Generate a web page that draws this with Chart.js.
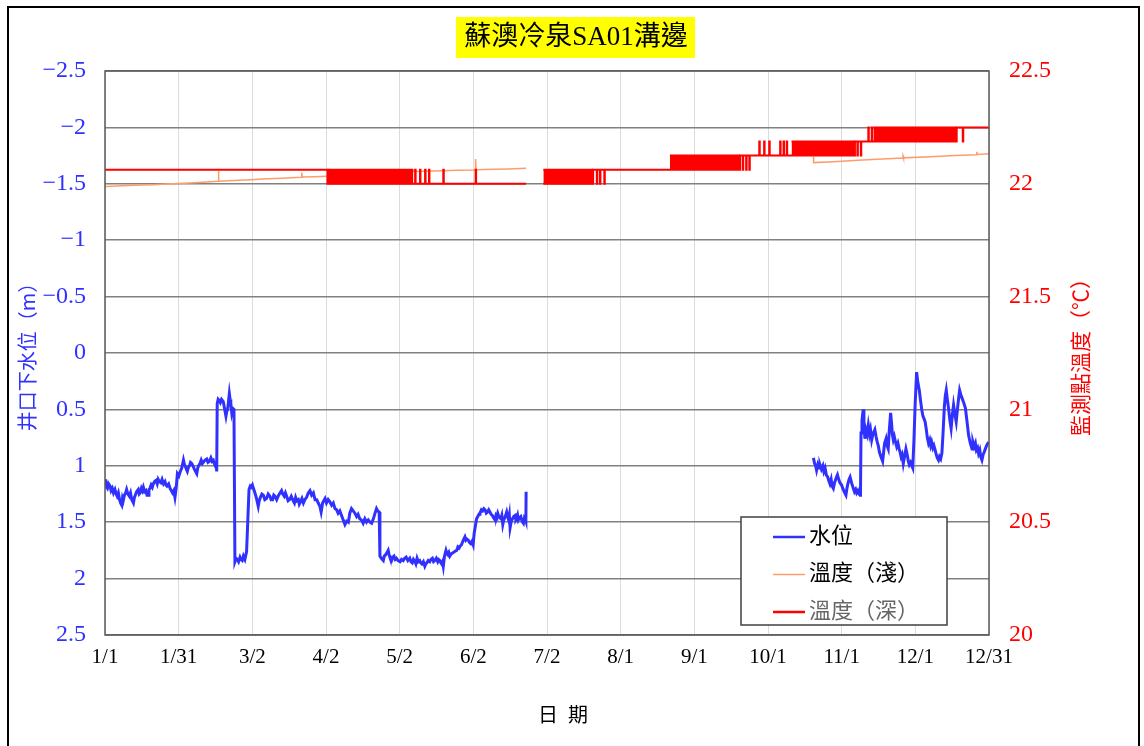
<!DOCTYPE html>
<html>
<head>
<meta charset="utf-8">
<script src="https://cdn.jsdelivr.net/npm/chart.js@4.4.1/dist/chart.umd.min.js"></script>
<style>
  html, body { margin: 0; padding: 0; background: #fff; }
  #wrap { width: 1144px; height: 746px; }
</style>
</head>
<body>
<div id="wrap"><canvas id="chart" width="1144" height="746"></canvas></div>
<script>
// x axis is day of year: 0 = 1/1 ... 364 = 12/31
const dayLabels = ['1/1', '1/31', '3/2', '4/2', '5/2', '6/2', '7/2', '8/1', '9/1', '10/1', '11/1', '12/1', '12/31'];

// 井口下水位 (m), [day, value]
const waterLevelA = [
  [0, 1.17], [0.3, 1.12], [0.7, 1.19], [1, 1.2], [1.5, 1.16], [2.1, 1.18], [2.5, 1.22], [3, 1.2], [3.5, 1.24],
  [4.1, 1.21], [4.6, 1.25], [5, 1.27], [5.5, 1.24], [6, 1.3], [6.4, 1.33], [6.9, 1.35], [7.2, 1.29], [7.5, 1.31],
  [8, 1.26], [8.5, 1.24], [8.9, 1.21], [9.4, 1.25], [10, 1.27], [10.5, 1.24], [11, 1.3], [11.7, 1.33], [12.1, 1.28],
  [12.5, 1.26], [13, 1.23], [13.7, 1.21], [14.1, 1.25], [14.5, 1.24], [15, 1.2], [15.4, 1.22], [15.8, 1.19],
  [16.3, 1.23], [16.8, 1.22], [17.3, 1.26], [17.8, 1.26], [18.1, 1.21], [18.5, 1.2], [19, 1.17], [19.5, 1.19],
  [19.9, 1.16], [20.4, 1.14], [21, 1.13], [21.5, 1.16], [21.9, 1.12], [22.4, 1.14], [23, 1.15], [23.5, 1.12],
  [24.1, 1.16], [24.7, 1.14], [25.1, 1.17], [25.5, 1.18], [26.2, 1.16], [26.8, 1.2], [27.3, 1.22], [27.8, 1.24],
  [28.3, 1.22], [28.8, 1.28], [29.3, 1.2], [29.8, 1.07], [30.4, 1.09], [31, 1.05], [31.6, 1.02], [32.3, 0.95],
  [32.7, 0.99], [33, 1.0], [33.5, 1.03], [33.9, 1.05], [34.4, 1.01], [34.8, 1.0], [35.2, 0.97], [35.7, 0.98],
  [36.2, 1.0], [36.8, 1.03], [37.3, 1.05], [37.8, 1.07], [38.2, 1.02], [38.5, 1.0], [39.1, 0.98], [39.6, 0.95],
  [40.1, 0.98], [40.5, 0.97], [41.2, 0.95], [41.9, 0.94], [42.4, 0.97], [43, 0.96], [43.6, 0.93], [44.1, 0.96],
  [44.6, 0.95], [45, 0.98], [45.4, 1.0], [45.8, 0.99], [46, 1.05], [46.2, 0.45], [46.6, 0.41], [47, 0.42],
  [47.5, 0.44], [48, 0.41], [48.7, 0.43], [49.3, 0.5], [49.8, 0.56], [50.1, 0.52], [50.5, 0.5], [50.9, 0.42],
  [51.2, 0.36], [51.5, 0.41], [51.8, 0.45], [52.2, 0.53], [52.6, 0.49], [53.1, 0.5], [53.5, 1.85], [54, 1.82],
  [54.5, 1.83], [55, 1.85], [55.6, 1.81], [56, 1.83], [56.5, 1.84], [57, 1.8], [57.6, 1.83], [58, 1.79],
  [58.3, 1.76], [59.3, 1.21], [59.8, 1.18], [60.2, 1.19], [60.7, 1.17], [61.1, 1.2], [61.6, 1.23], [62, 1.26],
  [62.5, 1.3], [63.1, 1.36], [63.5, 1.31], [64, 1.28], [64.6, 1.25], [65.2, 1.26], [65.8, 1.3], [66.5, 1.29],
  [67.2, 1.25], [67.9, 1.27], [68.4, 1.3], [69, 1.3], [69.5, 1.26], [70, 1.27], [70.7, 1.3], [71.5, 1.26],
  [72.1, 1.24], [72.7, 1.22], [73.2, 1.25], [73.8, 1.27], [74.3, 1.24], [74.8, 1.27], [75.4, 1.31], [76, 1.3],
  [76.7, 1.27], [77.5, 1.31], [78, 1.33], [78.5, 1.28], [79, 1.31], [79.6, 1.3], [80, 1.34], [80.5, 1.32],
  [81.1, 1.29], [81.7, 1.33], [82.3, 1.3], [83, 1.28], [83.7, 1.24], [84.4, 1.22], [85.1, 1.26], [85.8, 1.24],
  [86.5, 1.3], [87.2, 1.3], [87.8, 1.33], [88.5, 1.36], [89, 1.41], [89.6, 1.33], [90.1, 1.31], [90.6, 1.29],
  [91.2, 1.33], [91.9, 1.3], [92.6, 1.32], [93.3, 1.35], [94, 1.33], [94.7, 1.38], [95.4, 1.39], [96, 1.42],
  [96.7, 1.4], [97.4, 1.44], [98.1, 1.48], [98.8, 1.52], [99.5, 1.49], [100.2, 1.5], [100.8, 1.42], [101.5, 1.38],
  [102.2, 1.4], [102.9, 1.42], [103.6, 1.45], [104.2, 1.43], [104.9, 1.47], [105.6, 1.48], [106.3, 1.51],
  [107, 1.47], [107.7, 1.5], [108.4, 1.48], [109.1, 1.5], [109.8, 1.51], [110.5, 1.47], [111.2, 1.42],
  [111.8, 1.38], [112.3, 1.4], [112.9, 1.41], [113.2, 1.8], [113.8, 1.82], [114.6, 1.84], [115, 1.8],
  [115.5, 1.79], [116.1, 1.77], [116.6, 1.75], [117, 1.79], [117.3, 1.81], [117.7, 1.83], [118, 1.84],
  [118.5, 1.81], [119, 1.8], [119.5, 1.83], [120, 1.82], [120.7, 1.84], [121.5, 1.85], [122.1, 1.83],
  [122.8, 1.84], [123.4, 1.82], [124, 1.81], [124.7, 1.84], [125.5, 1.82], [126, 1.85], [126.5, 1.86],
  [127, 1.83], [127.6, 1.85], [128, 1.87], [128.5, 1.82], [129, 1.85], [129.6, 1.84], [130, 1.86], [130.5, 1.87],
  [131.1, 1.85], [131.7, 1.89], [132.1, 1.87], [132.5, 1.86], [133.1, 1.84], [133.7, 1.85], [134.2, 1.83],
  [134.8, 1.82], [135.3, 1.85], [135.8, 1.84], [136.4, 1.82], [137, 1.85], [137.4, 1.83], [137.9, 1.84],
  [138.3, 1.86], [138.6, 1.87], [139, 1.85], [139.3, 1.89], [139.8, 1.8], [140.4, 1.75], [140.8, 1.78],
  [141.2, 1.79], [141.6, 1.77], [142, 1.8], [142.6, 1.78], [143.3, 1.77], [144, 1.76], [144.8, 1.75],
  [145.3, 1.72], [145.8, 1.73], [146.3, 1.71], [146.8, 1.7], [147.5, 1.66], [148.2, 1.63], [148.6, 1.66],
  [149, 1.65], [149.6, 1.66], [150.1, 1.68], [150.6, 1.69], [151.1, 1.67], [151.6, 1.7], [152, 1.6],
  [152.6, 1.52], [153, 1.47], [153.5, 1.45], [154, 1.43], [154.4, 1.42], [155, 1.39], [155.5, 1.4], [156, 1.38],
  [156.5, 1.39], [157, 1.42], [157.5, 1.41], [158, 1.39], [158.5, 1.41], [159, 1.43], [159.5, 1.44], [160, 1.46],
  [160.6, 1.48], [161, 1.44], [161.3, 1.45], [161.7, 1.42], [162, 1.44], [162.5, 1.46], [163, 1.47],
  [163.4, 1.44], [163.8, 1.52], [164.2, 1.48], [164.6, 1.46], [165, 1.44], [165.4, 1.41], [165.8, 1.45],
  [166.2, 1.48], [166.5, 1.44], [166.8, 1.55], [167.3, 1.49], [167.8, 1.47], [168.3, 1.45], [168.9, 1.44],
  [169.2, 1.48], [169.5, 1.47], [169.9, 1.44], [170.2, 1.48], [170.7, 1.46], [171.2, 1.45], [171.7, 1.49],
  [172.3, 1.51], [172.7, 1.46], [173, 1.47], [173.3, 1.49], [173.4, 1.23]
];
const waterLevelB = [
  [291.7, 0.93], [292.2, 0.98], [292.6, 1.0], [293, 1.04], [293.5, 0.99], [294, 1.02], [294.4, 0.99], [295, 1.03],
  [295.6, 1.0], [296, 1.05], [296.5, 1.02], [297, 1.08], [297.6, 1.1], [298, 1.13], [298.5, 1.16], [299, 1.12],
  [299.4, 1.18], [299.9, 1.2], [300.4, 1.15], [300.9, 1.12], [301.2, 1.1], [301.6, 1.08], [302.1, 1.12],
  [302.6, 1.15], [303.3, 1.17], [303.8, 1.2], [304.4, 1.23], [305.1, 1.26], [305.5, 1.2], [306, 1.15],
  [306.4, 1.12], [306.8, 1.1], [307.4, 1.15], [308.1, 1.2], [308.6, 1.23], [309.1, 1.21], [309.5, 1.24],
  [310, 1.22], [310.5, 1.25], [310.9, 1.26], [311.1, 1.2], [311.3, 0.71], [311.7, 0.6], [312.2, 0.5],
  [312.5, 0.64], [312.9, 0.76], [313.3, 0.68], [313.8, 0.72], [314.3, 0.64], [314.8, 0.72], [315.2, 0.68],
  [315.7, 0.77], [316.2, 0.72], [316.6, 0.7], [317, 0.68], [317.5, 0.74], [318, 0.79], [318.4, 0.82],
  [318.9, 0.88], [319.5, 0.92], [320.2, 0.96], [320.6, 0.88], [321, 0.8], [321.6, 0.76], [322, 0.82],
  [322.5, 0.85], [322.9, 0.7], [323.5, 0.53], [323.9, 0.63], [324.2, 0.72], [324.6, 0.77], [325, 0.74],
  [325.5, 0.79], [326, 0.83], [326.5, 0.8], [327, 0.85], [327.4, 0.88], [327.8, 0.92], [328.2, 0.9],
  [328.7, 0.98], [329.2, 0.92], [329.8, 0.85], [330.3, 0.9], [330.8, 0.96], [331.2, 0.99], [331.7, 0.97],
  [332.2, 1.0], [332.6, 1.02], [333.1, 0.77], [333.6, 0.45], [334.2, 0.17], [334.7, 0.26], [335.3, 0.33],
  [335.8, 0.42], [336.3, 0.5], [336.8, 0.56], [337.2, 0.58], [337.7, 0.61], [338.2, 0.68], [338.6, 0.75],
  [339.1, 0.8], [339.6, 0.77], [340, 0.82], [340.4, 0.79], [340.9, 0.84], [341.3, 0.82], [341.8, 0.86],
  [342.3, 0.9], [342.7, 0.93], [343.2, 0.95], [343.6, 0.92], [344.1, 0.94], [344.6, 0.89], [345.1, 0.7],
  [345.6, 0.48], [346, 0.38], [346.4, 0.33], [346.9, 0.42], [347.4, 0.5], [347.9, 0.6], [348.4, 0.67],
  [348.9, 0.55], [349.4, 0.46], [350, 0.55], [350.5, 0.61], [351, 0.5], [351.5, 0.4], [351.9, 0.33],
  [352.4, 0.37], [352.9, 0.4], [353.6, 0.44], [354.3, 0.49], [354.9, 0.6], [355.6, 0.73], [356.3, 0.8],
  [357, 0.85], [357.4, 0.79], [357.9, 0.83], [358.4, 0.8], [358.8, 0.86], [359.3, 0.84], [359.7, 0.89],
  [360.2, 0.86], [360.6, 0.92], [361.1, 0.95], [361.6, 0.9], [362, 0.88], [362.5, 0.85], [363, 0.82],
  [363.5, 0.8], [363.9, 0.79]
];

// 溫度（淺）, [day, value]
const shallowTempA = [
  [0, 21.988], [5, 21.99], [10, 21.992], [15, 21.995], [20, 21.996], [25, 21.999], [30, 22.001], [35, 22.004],
  [40, 22.007], [46.6, 22.011], [46.7, 22.058], [46.9, 22.011], [55, 22.016], [60, 22.018], [65, 22.021],
  [70, 22.023], [75, 22.026], [80.9, 22.029], [81, 22.05], [81.2, 22.03], [86, 22.031], [91.6, 22.033],
  [100, 22.038], [110, 22.045], [120, 22.05], [127, 22.054], [135, 22.057], [145, 22.06], [152.5, 22.061],
  [152.6, 22.11], [152.8, 22.062], [160, 22.064], [166, 22.066], [173.4, 22.069]
];
const shallowTempB = [
  [291.7, 22.12], [291.8, 22.094], [300, 22.098], [310, 22.104], [320, 22.11], [328.5, 22.114], [328.6, 22.124],
  [328.8, 22.115], [340, 22.12], [350, 22.125], [358.9, 22.129], [359, 22.142], [359.2, 22.13], [364, 22.133]
];

// 溫度（深）, [day, value] held until the next point
const deepTempA = [
  [0, 22.0625], [91.6, 22.0], [127.7, 22.0625], [127.9, 22.0], [129.7, 22.0625], [129.9, 22.0],
  [131.8, 22.0625], [132, 22.0], [133.4, 22.0625], [133.6, 22.0], [139.3, 22.0625], [139.5, 22.0],
  [152.6, 22.0625], [152.8, 22.0], [173.4, 22.0]
];
const deepTempB = [
  [180.5, 22.0], [201, 22.0625], [202.5, 22.0], [202.7, 22.0625], [203.8, 22.0], [204, 22.0625], [205.6, 22.0],
  [205.8, 22.0625], [232.6, 22.0625], [261.5, 22.125], [262.6, 22.0625], [262.8, 22.125], [264, 22.0625],
  [264.2, 22.125], [265.3, 22.0625], [265.5, 22.125], [269.4, 22.1875], [269.6, 22.125], [271.4, 22.1875],
  [271.6, 22.125], [273.5, 22.1875], [273.7, 22.125], [278, 22.1875], [278.2, 22.125], [279.4, 22.1875],
  [279.6, 22.125], [280.7, 22.1875], [280.9, 22.125], [308.8, 22.1875], [309.8, 22.125], [310, 22.1875],
  [311.2, 22.125], [311.4, 22.1875], [314.3, 22.25], [314.5, 22.1875], [315.7, 22.25], [315.9, 22.1875],
  [350.7, 22.25], [353.2, 22.1875], [353.4, 22.25], [364, 22.25]
];
// stretches where the deep sensor flips between two readings every few minutes
const denseFrom = [91.6, 180.5, 232.6, 282.7, 316.4];
const denseTo   = [127, 201, 261.5, 308.8, 350.7];
const denseLow  = [22.0, 22.0, 22.0625, 22.125, 22.1875];
const denseHigh = [22.0625, 22.0625, 22.125, 22.1875, 22.25];

const BLUE = '#3030ff';
const ORANGE = '#ff9c6b';
const RED = '#ff0000';
const SERIF = '"Liberation Serif", "Noto Sans CJK TC", serif';
const CJK = '"Noto Sans CJK TC", sans-serif';

function toPoints(a, b, gapAt) {
  const pts = a.map(p => ({ x: p[0], y: p[1] }));
  pts.push({ x: gapAt, y: null });
  return pts.concat(b.map(p => ({ x: p[0], y: p[1] })));
}

const datasets = [
  {
    label: '水位', yAxisID: 'y', data: toPoints(waterLevelA, waterLevelB, 230),
    borderColor: BLUE, borderWidth: 3, order: 1
  },
  {
    label: '溫度（淺）', yAxisID: 'y2', data: toPoints(shallowTempA, shallowTempB, 230),
    borderColor: ORANGE, borderWidth: 1.5, order: 4
  },
  {
    label: '溫度（深）', yAxisID: 'y2', data: toPoints(deepTempA, deepTempB, 176),
    borderColor: RED, borderWidth: 2, stepped: true, order: 2
  }
];
denseFrom.forEach((f, i) => {
  datasets.push({
    label: 'dense' + i, yAxisID: 'y2',
    data: [{ x: f, y: denseHigh[i] }, { x: denseTo[i], y: denseHigh[i] }],
    borderColor: RED, backgroundColor: RED, borderWidth: 2,
    fill: { value: denseLow[i] }, order: 3
  });
});

// frame, title box, axis titles and legend box drawn on top
const decorations = {
  id: 'decorations',
  beforeDraw(chart) {
    const ctx = chart.ctx;
    ctx.save();
    ctx.fillStyle = '#fff';
    ctx.fillRect(0, 0, chart.width, chart.height);
    ctx.restore();
  },
  afterDraw(chart) {
    const ctx = chart.ctx;
    const a = chart.chartArea;
    ctx.save();

    // plot border
    ctx.strokeStyle = '#595959';
    ctx.lineWidth = 1.5;
    ctx.strokeRect(a.left, a.top, a.right - a.left, a.bottom - a.top);

    // outer frame
    ctx.strokeStyle = '#000';
    ctx.lineWidth = 2;
    ctx.strokeRect(8, 7, 1131, 760);

    // title
    ctx.fillStyle = '#ffff00';
    ctx.fillRect(456, 17, 239, 41);
    ctx.fillStyle = '#000';
    ctx.font = '27px ' + SERIF;
    ctx.textAlign = 'center';
    ctx.textBaseline = 'middle';
    ctx.fillText('蘇澳冷泉SA01溝邊', 576, 38);

    // x title
    ctx.font = '20px ' + CJK;
    ctx.letterSpacing = '10px';
    ctx.fillText('日期', 568, 714);
    ctx.letterSpacing = '0px';

    // left title
    ctx.save();
    ctx.translate(27, 352);
    ctx.rotate(-Math.PI / 2);
    ctx.fillStyle = BLUE;
    ctx.font = '20px ' + CJK;
    ctx.fillText('井口下水位（m）', 0, 0);
    ctx.restore();

    // right title
    ctx.save();
    ctx.translate(1080, 352);
    ctx.rotate(-Math.PI / 2);
    ctx.fillStyle = RED;
    ctx.font = '21px ' + CJK;
    ctx.fillText('監測點溫度（℃）', 0, 0);
    ctx.restore();

    // legend
    ctx.fillStyle = '#fff';
    ctx.fillRect(741, 517, 206, 108);
    ctx.strokeStyle = '#404040';
    ctx.lineWidth = 1.5;
    ctx.strokeRect(741, 517, 206, 108);
    const rows = [
      { text: datasets[0].label, line: BLUE, w: 2.5, color: '#000' },
      { text: datasets[1].label, line: ORANGE, w: 1.5, color: '#000' },
      { text: datasets[2].label, line: RED, w: 2.5, color: '#666' }
    ];
    ctx.font = '22px ' + SERIF;
    ctx.textAlign = 'left';
    rows.forEach((r, i) => {
      const y = 537 + i * 37.5;
      ctx.strokeStyle = r.line;
      ctx.lineWidth = r.w;
      ctx.beginPath();
      ctx.moveTo(773, y);
      ctx.lineTo(805, y);
      ctx.stroke();
      ctx.fillStyle = r.color;
      ctx.fillText(r.text, 809, y);
    });
    ctx.restore();
  }
};

new Chart(document.getElementById('chart'), {
  type: 'line',
  data: { datasets: datasets },
  plugins: [decorations],
  options: {
    responsive: false,
    animation: false,
    devicePixelRatio: 1,
    elements: { point: { radius: 0 }, line: { tension: 0 } },
    layout: { padding: { top: 71, left: 0, right: 0, bottom: 0 } },
    plugins: { legend: { display: false }, tooltip: { enabled: false }, title: { display: false } },
    scales: {
      x: {
        type: 'linear', min: 0, max: 364,
        afterBuildTicks: s => { s.ticks = dayLabels.map((l, i) => ({ value: i * 364 / 12 })); },
        afterFit: s => { s.height = 111; },
        ticks: {
          autoSkip: false, maxRotation: 0, padding: 10, color: '#000',
          font: { family: SERIF, size: 21 },
          callback: (v, i) => dayLabels[i]
        },
        grid: { color: '#dcdcdc', lineWidth: 1, drawTicks: false },
        border: { display: false }
      },
      y: {
        position: 'left', reverse: true, min: -2.5, max: 2.5,
        afterFit: s => { s.width = 105; },
        ticks: {
          stepSize: 0.5, padding: 19, color: BLUE,
          font: { family: SERIF, size: 24 },
          callback: v => String(v).replace('-', '\u2212')
        },
        grid: { color: '#808080', lineWidth: 1.5, drawTicks: false },
        border: { display: false }
      },
      y2: {
        position: 'right', min: 20, max: 22.5,
        afterFit: s => { s.width = 155; },
        ticks: {
          stepSize: 0.5, padding: 20, color: RED,
          font: { family: SERIF, size: 24 },
          callback: v => String(Math.round(v * 10) / 10)
        },
        grid: { display: false, drawTicks: false },
        border: { display: false }
      }
    }
  }
});
</script>
</body>
</html>
